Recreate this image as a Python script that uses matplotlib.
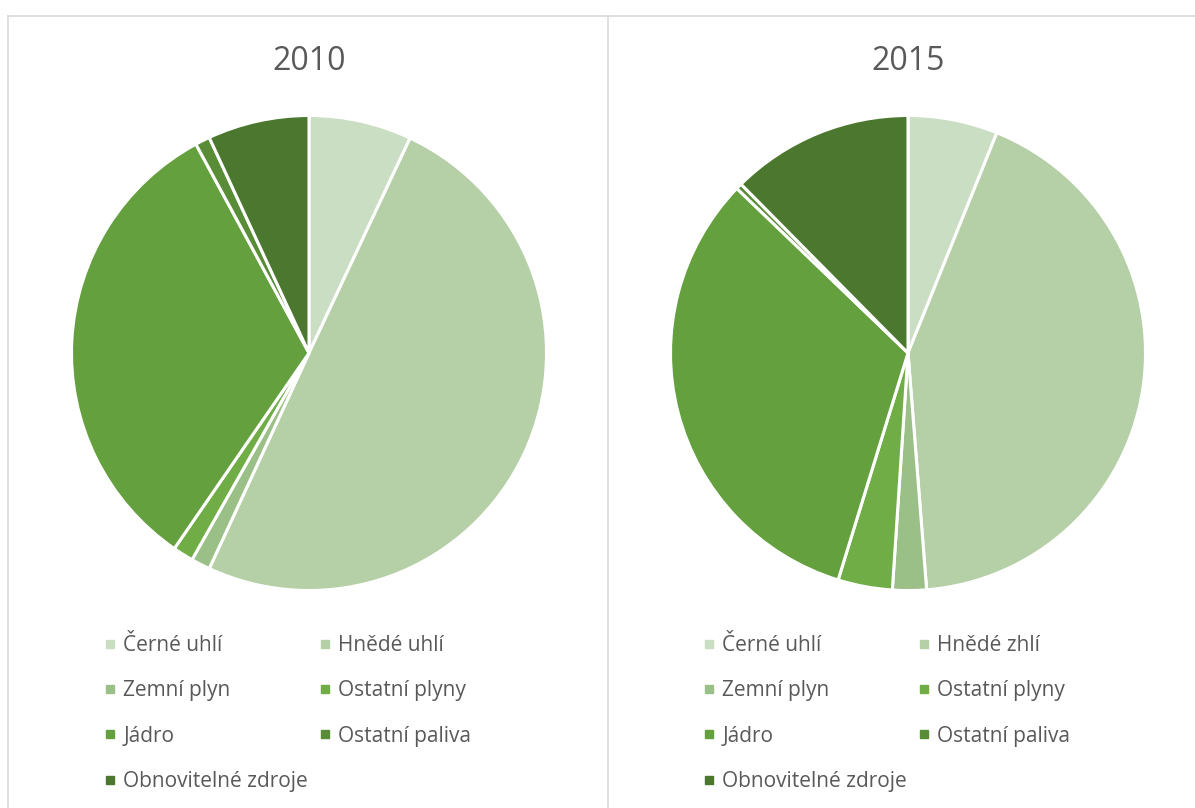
import matplotlib
matplotlib.use("Agg")
from matplotlib import pyplot as plt
from matplotlib.lines import Line2D

plt.rcParams['font.family'] = ['Open Sans', 'DejaVu Sans']

# DATA
years = ["2010", "2015"]
labels_2010 = ["Černé uhlí", "Hnědé uhlí", "Zemní plyn", "Ostatní plyny",
               "Jádro", "Ostatní paliva", "Obnovitelné zdroje"]
labels_2015 = ["Černé uhlí", "Hnědé zhlí", "Zemní plyn", "Ostatní plyny",
               "Jádro", "Ostatní paliva", "Obnovitelné zdroje"]
shares_2010 = [7.0, 49.9, 1.3, 1.4, 32.5, 1.0, 6.9]
shares_2015 = [6.1, 42.6, 2.3, 3.7, 32.4, 0.4, 12.4]
colors = ["#CADEC3", "#B5CFA6", "#9BC087", "#70AD47", "#65A03F", "#588C37", "#4B782E"]

W, H = 1195, 808
fig = plt.figure(figsize=(W / 100, H / 100), dpi=100)
text_color = "#595959"
border = "#D9D9D9"

# frame lines (pixel coords -> figure coords)
def hline(y, x0, x1):
    fig.add_artist(Line2D([x0 / W, x1 / W], [1 - y / H, 1 - y / H], color=border, lw=1.2))

def vline(x, y0, y1):
    fig.add_artist(Line2D([x / W, x / W], [1 - y0 / H, 1 - y1 / H], color=border, lw=1.2))

hline(15.5, 8, W)
vline(8, 15.5, H)
vline(608, 15.5, H)

centers = [309, 908]
cy = 353
r = 237.5
data = [(labels_2010, shares_2010), (labels_2015, shares_2015)]

for cx, year, (labels, shares) in zip(centers, years, data):
    ax = fig.add_axes([(cx - r) / W, (H - cy - r) / H, 2 * r / W, 2 * r / H])
    ax.pie(shares, colors=colors, startangle=90, counterclock=False,
           wedgeprops=dict(edgecolor="white", linewidth=2.2))
    ax.set_xlim(-1, 1)
    ax.set_ylim(-1, 1)
    ax.set_aspect("equal")
    ax.axis("off")
    fig.text(cx / W, 1 - 62 / H, year, ha="center", va="center",
             fontsize=23, color=text_color)

    # legend, row-major order like the original -> reorder for column-major fill
    order = [0, 2, 4, 6, 1, 3, 5]
    handles = [Line2D([], [], marker="s", linestyle="none", markersize=6,
                      color=colors[i]) for i in order]
    leg = fig.legend(handles, [labels[i] for i in order], ncol=2,
                     loc="upper left",
                     bbox_to_anchor=((cx - 205) / W, 1 - 635 / H),
                     frameon=False, fontsize=15, labelcolor=text_color,
                     borderpad=0, borderaxespad=0,
                     handlelength=0.6, handletextpad=0.33,
                     columnspacing=0.5, labelspacing=1.17)

fig.savefig("out.png", dpi=100)
